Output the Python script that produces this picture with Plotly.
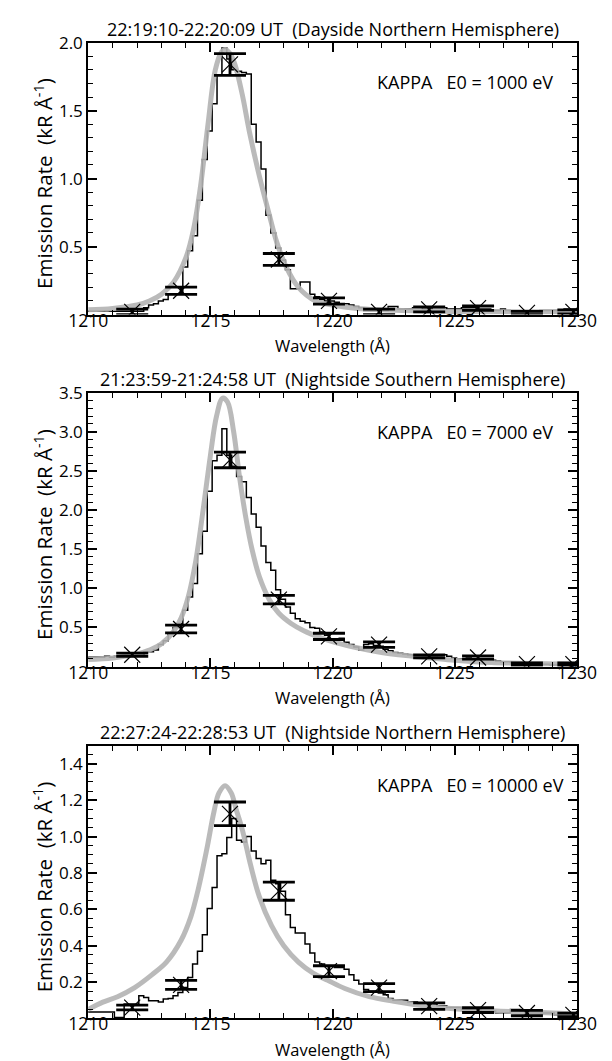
import plotly.graph_objects as go

# ---------------- data ----------------
BIN_START = 1209.87
BIN_WIDTH = 0.2

# histogram (observed spectrum), kR/A, one value per 0.2 A bin
hist_1 = [0.025,
    0.025, 0.024, 0.024, 0.026, 0.025, 0.024, 0.025, 0.024, 0.024, 0.025, 0.025,
    0.05, 0.07, 0.08, 0.10, 0.11, 0.15, 0.15, 0.15,
    0.35, 0.47, 0.58, 0.84, 1.14, 1.35, 1.55, 1.76,
    1.96, 1.88, 1.80, 1.79, 1.78, 1.77,
    1.40, 1.27, 1.07, 0.73, 0.60, 0.49,
    0.40, 0.33, 0.19, 0.19, 0.24, 0.24,
    0.15, 0.13, 0.11, 0.10, 0.10, 0.09, 0.08, 0.08, 0.07, 0.06,
    0.05, 0.03, 0.03, 0.03, 0.03, 0.03, 0.06, 0.06, 0.04, 0.04,
    0.04, 0.05, 0.05, 0.04, 0.04, 0.05, 0.05, 0.05, 0.04, 0.04,
    0.04, 0.05, 0.05, 0.05, 0.04, 0.04, 0.04, 0.03, 0.03, 0.04,
    0.03, 0.02, 0.02, 0.02, 0.02, 0.02, 0.02, 0.03, 0.03, 0.03,
    0.03, 0.03, 0.04, 0.04, 0.04]

hist_2 = [0.12,
    0.12, 0.12, 0.12, 0.13, 0.12, 0.13, 0.13, 0.14, 0.13, 0.14, 0.14,
    0.19, 0.19, 0.21, 0.28, 0.33, 0.42, 0.50, 0.55,
    0.72, 0.89, 1.06, 1.44, 1.73, 2.24, 2.63, 2.70,
    3.04, 2.70, 2.56, 2.43, 2.36, 2.16,
    1.95, 1.78, 1.54, 1.33, 1.23, 0.98,
    0.86, 0.76, 0.68, 0.61, 0.58, 0.56,
    0.50, 0.49, 0.44, 0.40, 0.35, 0.34, 0.36, 0.31, 0.28, 0.25,
    0.21, 0.28, 0.29, 0.27, 0.26, 0.22, 0.20, 0.18, 0.17, 0.16,
    0.15, 0.14, 0.14, 0.13, 0.13, 0.13, 0.14, 0.15, 0.13, 0.11,
    0.10, 0.10, 0.11, 0.10, 0.10, 0.09, 0.09, 0.08, 0.07, 0.06,
    0.06, 0.05, 0.05, 0.05, 0.04, 0.04, 0.04, 0.03, 0.03, 0.02,
    0.02, 0.02, 0.03, 0.02, 0.02]

hist_3 = [0.035,
    0.035, 0.035, 0.035, 0.035, 0.035, 0.005, 0.005, 0.08, 0.08, 0.08, 0.125,
    0.116, 0.098, 0.098, 0.09, 0.107, 0.11, 0.125, 0.143,
    0.17, 0.225, 0.30, 0.37, 0.46, 0.605, 0.72, 0.895,
    0.905, 0.995, 1.10, 0.98, 0.97, 1.00,
    0.92, 0.88, 0.85, 0.87, 0.76, 0.74,
    0.70, 0.57, 0.50, 0.47, 0.47, 0.41,
    0.36, 0.31, 0.30, 0.29, 0.29, 0.28, 0.28, 0.27, 0.24, 0.21,
    0.19, 0.16, 0.15, 0.15, 0.14, 0.13, 0.11, 0.10, 0.10, 0.10,
    0.09, 0.09, 0.08, 0.08, 0.08, 0.08, 0.07, 0.07, 0.06, 0.06,
    0.06, 0.05, 0.05, 0.05, 0.05, 0.04, 0.04, 0.04, 0.03, 0.03,
    0.03, 0.05, 0.05, 0.04, 0.03, 0.03, 0.03, 0.03, 0.03, 0.03,
    0.02, 0.02, 0.02, 0.02, 0.02]

# model (kappa) curves, read at sample wavelengths
model_wl_1 = [1210.0, 1211.0, 1212.0, 1212.5, 1213.0, 1213.5, 1214.0, 1214.3, 1214.6, 1214.9,
              1215.2, 1215.45, 1215.6, 1215.8, 1216.0, 1216.3, 1216.6, 1217.0, 1217.4, 1217.7,
              1218.1, 1218.6, 1219.3, 1220.0, 1221.0, 1222.0, 1224.0, 1226.0, 1228.0, 1230.0]
model_1 = [0.035, 0.045, 0.07, 0.10, 0.15, 0.24, 0.42, 0.62, 0.95, 1.40,
           1.80, 1.93, 1.95, 1.92, 1.84, 1.62, 1.34, 1.02, 0.74, 0.54,
           0.35, 0.20, 0.10, 0.07, 0.045, 0.035, 0.025, 0.02, 0.02, 0.02]

model_wl_2 = [1210.0, 1211.0, 1212.0, 1212.5, 1213.0, 1213.5, 1213.8, 1214.1, 1214.4, 1214.7,
              1215.0, 1215.25, 1215.5, 1215.7, 1215.95, 1216.2, 1216.45, 1216.7, 1217.0, 1217.4,
              1217.8, 1218.3, 1218.8, 1219.5, 1220.2, 1221.0, 1222.0, 1223.0, 1224.0, 1225.0,
              1226.5, 1228.0, 1230.0]
model_2 = [0.09, 0.11, 0.16, 0.21, 0.29, 0.45, 0.62, 0.90, 1.35, 2.00,
           2.70, 3.20, 3.43, 3.38, 3.00, 2.40, 1.90, 1.50, 1.15, 0.86,
           0.68, 0.55, 0.46, 0.37, 0.30, 0.24, 0.18, 0.14, 0.11, 0.08,
           0.05, 0.04, 0.03]

model_wl_3 = [1210.0, 1210.6, 1211.2, 1211.9, 1212.6, 1213.2, 1213.8, 1214.2, 1214.5, 1214.85,
              1215.15, 1215.35, 1215.6, 1215.85, 1216.05, 1216.3, 1216.65, 1217.0, 1217.5, 1218.0,
              1218.6, 1219.2, 1219.8, 1220.5, 1221.5, 1222.5, 1224.0, 1226.0, 1228.0, 1230.0]
model_3 = [0.05, 0.09, 0.12, 0.17, 0.24, 0.31, 0.43, 0.56, 0.71, 0.93,
           1.14, 1.24, 1.28, 1.24, 1.15, 1.04, 0.84, 0.67, 0.51, 0.40,
           0.31, 0.25, 0.21, 0.165, 0.12, 0.095, 0.065, 0.045, 0.035, 0.025]

# binned data points with errors
pts_wl = [1211.8, 1213.8, 1215.8, 1217.8, 1219.85, 1221.9, 1223.95, 1225.95, 1227.95, 1229.85]
pts_1 = [0.02, 0.175, 1.84, 0.405, 0.10, 0.02, 0.038, 0.047, 0.012, 0.02]
err_1 = [0.02, 0.027, 0.08, 0.044, 0.023, 0.02, 0.018, 0.016, 0.012, 0.015]
pts_2 = [0.15, 0.48, 2.64, 0.855, 0.385, 0.28, 0.13, 0.115, 0.03, 0.03]
err_2 = [0.02, 0.05, 0.10, 0.055, 0.04, 0.035, 0.02, 0.02, 0.015, 0.015]
pts_3 = [0.06, 0.185, 1.125, 0.70, 0.26, 0.17, 0.068, 0.046, 0.03, 0.02]
err_3 = [0.013, 0.025, 0.065, 0.05, 0.03, 0.022, 0.018, 0.013, 0.015, 0.01]

NB = "\u00a0"
titles = ["22:19:10-22:20:09 UT" + NB * 2 + "(Dayside Northern Hemisphere)",
          "21:23:59-21:24:58 UT" + NB * 2 + "(Nightside Southern Hemisphere)",
          "22:27:24-22:28:53 UT" + NB * 2 + "(Nightside Northern Hemisphere)"]
labels = ["KAPPA" + NB * 3 + "E0 = 1000 eV",
          "KAPPA" + NB * 3 + "E0 = 7000 eV",
          "KAPPA" + NB * 3 + "E0 = 10000 eV"]

x_ticks = [1210, 1215, 1220, 1225, 1230]
y_ranges = [[0, 2.0], [0, 3.5], [0, 1.5]]
y_ticks = [[0.5, 1.0, 1.5, 2.0],
           [0.5, 1.0, 1.5, 2.0, 2.5, 3.0, 3.5],
           [0.2, 0.4, 0.6, 0.8, 1.0, 1.2, 1.4]]
y_ticktext = [["0.5", "1.0", "1.5", "2.0"],
              ["0.5", "1.0", "1.5", "2.0", "2.5", "3.0", "3.5"],
              ["0.2", "0.4", "0.6", "0.8", "1.0", "1.2", "1.4"]]
y_minor = [0.1, 0.1, 0.05]

# ---------------- figure ----------------
W, H = 612, 1061
FONT = "Open Sans, Noto Sans, DejaVu Sans, sans-serif"
x_dom = [73 / W, 596 / W]
panels_px = [(31, 306), (385, 662), (742, 1018)]

fig = go.Figure()
hists = [hist_1, hist_2, hist_3]
models = [(model_wl_1, model_1), (model_wl_2, model_2), (model_wl_3, model_3)]
pts = [(pts_1, err_1), (pts_2, err_2), (pts_3, err_3)]

layout = dict(width=W, height=H, margin=dict(l=0, r=0, t=0, b=0),
              paper_bgcolor="white", plot_bgcolor="white", showlegend=False,
              font=dict(family=FONT, color="black"), annotations=[])

for k in range(3):
    sfx = "" if k == 0 else str(k + 1)
    xa, ya = "x" + sfx, "y" + sfx
    h = hists[k]
    edges = [BIN_START + BIN_WIDTH * i for i in range(len(h) + 1)]
    fig.add_trace(go.Scatter(x=edges, y=h + [h[-1]], mode="lines", line_shape="hv",
                             line=dict(color="black", width=1.5), xaxis=xa, yaxis=ya))
    mw, mv = models[k]
    fig.add_trace(go.Scatter(x=mw, y=mv, mode="lines", line_shape="spline",
                             line=dict(color="rgba(178,178,178,0.9)", width=5, smoothing=1.0),
                             xaxis=xa, yaxis=ya))
    pv, pe = pts[k]
    fig.add_trace(go.Scatter(x=pts_wl, y=pv, mode="markers",
                             marker=dict(symbol="x-thin", size=16, line=dict(color="black", width=1.2)),
                             error_y=dict(type="data", array=pe, color="black", thickness=2.8, width=16),
                             xaxis=xa, yaxis=ya))

    top, bot = panels_px[k]
    ydom = [1 - bot / H, 1 - top / H]
    axis_common = dict(showgrid=False, zeroline=False, showline=True, linecolor="black",
                       linewidth=2, mirror="allticks", ticks="inside", tickcolor="black",
                       tickwidth=1.5, ticklabeloverflow="allow")
    layout["xaxis" + sfx] = dict(axis_common, domain=x_dom, range=[1210, 1230],
                                 tickvals=x_ticks, ticklen=9, ticklabelstandoff=-11,
                                 tickfont=dict(size=17.5, family=FONT),
                                 minor=dict(tickmode="linear", tick0=1210, dtick=1, ticklen=5,
                                            tickwidth=1.2, tickcolor="black", ticks="inside"),
                                 anchor=ya)
    layout["yaxis" + sfx] = dict(axis_common, domain=ydom, range=y_ranges[k],
                                 tickvals=y_ticks[k], ticktext=y_ticktext[k], ticklen=9,
                                 tickfont=dict(size=17, family=FONT),
                                 minor=dict(tickmode="linear", tick0=0, dtick=y_minor[k], ticklen=5,
                                            tickwidth=1.2, tickcolor="black", ticks="inside"),
                                 anchor=xa)
    cx = (x_dom[0] + x_dom[1]) / 2
    layout["annotations"] += [
        dict(text=titles[k], x=cx, y=1 - (top - 14) / H, xref="paper", yref="paper",
             showarrow=False, xanchor="center", yanchor="middle",
             font=dict(size=18, family=FONT)),
        dict(text=labels[k], x=380 / W, y=1 - (top + 40) / H, xref="paper", yref="paper",
             showarrow=False, xanchor="left", yanchor="middle",
             font=dict(size=18, family=FONT)),
        dict(text="Wavelength (Å)", x=cx, y=1 - (bot + 31) / H, xref="paper", yref="paper",
             showarrow=False, xanchor="center", yanchor="middle",
             font=dict(size=16.5, family=FONT)),
        dict(text="Emission Rate" + NB * 2 + "(kR Å<sup>-1</sup>)", x=25 / W,
             y=1 - ((top + bot) / 2 + 5) / H,
             xref="paper", yref="paper", showarrow=False, textangle=-90,
             xanchor="center", yanchor="middle", font=dict(size=20.5, family=FONT)),
    ]

fig.update_layout(**layout)
fig.write_html("out.html", config={"displayModeBar": False},
               post_script="document.body.style.margin='0';document.body.style.overflow='hidden';")
